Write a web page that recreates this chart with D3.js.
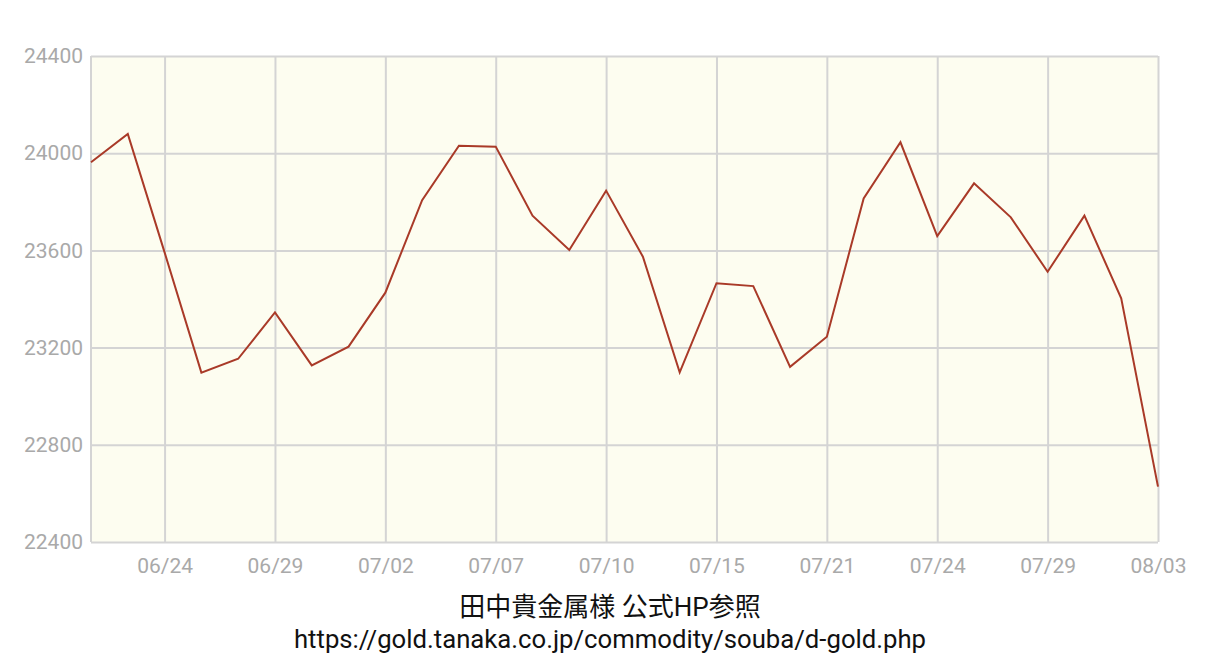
<!DOCTYPE html>
<html>
<head>
<meta charset="utf-8">
<script src="https://cdn.jsdelivr.net/npm/d3@7"></script>
<style>
  html, body { margin: 0; padding: 0; background: #fff; }
  svg { display: block; }
</style>
</head>
<body>
<svg id="chart" width="1220" height="661"></svg>
<script>
'use strict';

// data
const dates = [
    '06/22', '06/23', '06/24', '06/25', '06/26', '06/29', '06/30', '07/01', '07/02', '07/03',
    '07/06', '07/07', '07/08', '07/09', '07/10', '07/13', '07/14', '07/15', '07/16', '07/17',
    '07/21', '07/22', '07/23', '07/24', '07/27', '07/28', '07/29', '07/30', '07/31', '08/03'
];
const prices = [
    23963, 24079, 23592, 23097, 23154, 23345, 23127, 23204, 23426, 23807,
    24031, 24027, 23743, 23602, 23846, 23574, 23098, 23465, 23453, 23121,
    23245, 23814, 24045, 23659, 23876, 23736, 23512, 23743, 23403, 22628
];
const xTickLabels = ['06/24', '06/29', '07/02', '07/07', '07/10', '07/15', '07/21', '07/24', '07/29', '08/03'];
const yTicks = [22400, 22800, 23200, 23600, 24000, 24400];
const captionLines = ['田中貴金属様 公式HP参照', 'https://gold.tanaka.co.jp/commodity/souba/d-gold.php'];

// layout
const plotLeft = 91, plotRight = 1158, plotTop = 56, plotBottom = 542;
const gridColor = '#d4d4d4';
const labelColor = '#a9a9a9';

const svg = d3.select('#chart');

const x = d3.scalePoint()
    .domain(dates)
    .range([plotLeft, plotRight]);

const y = d3.scaleLinear()
    .domain([22400, 24400])
    .range([plotBottom, plotTop]);

// plot background
svg.append('rect')
    .attr('x', plotLeft).attr('y', plotTop)
    .attr('width', plotRight - plotLeft).attr('height', plotBottom - plotTop)
    .attr('fill', '#fdfdf0');

// horizontal grid + y labels
const yAxis = d3.axisLeft(y)
    .tickValues(yTicks)
    .tickSize(-(plotRight - plotLeft))
    .tickPadding(8)
    .tickFormat(d3.format('d'));

const gy = svg.append('g')
    .attr('transform', `translate(${plotLeft},0)`)
    .call(yAxis);
gy.select('.domain').remove();
gy.selectAll('line').attr('stroke', gridColor).attr('stroke-width', 2);
gy.selectAll('text')
    .attr('fill', labelColor)
    .style('font-family', 'Roboto, sans-serif')
    .style('font-size', '21px');

// vertical grid + x labels
const xAxis = d3.axisBottom(x)
    .tickValues(xTickLabels)
    .tickSize(-(plotBottom - plotTop))
    .tickPadding(16);

const gx = svg.append('g')
    .attr('transform', `translate(0,${plotBottom})`)
    .call(xAxis);
gx.select('.domain').remove();
gx.selectAll('line').attr('stroke', gridColor).attr('stroke-width', 2);
gx.selectAll('text')
    .attr('fill', labelColor)
    .style('font-family', 'Roboto, sans-serif')
    .style('font-size', '21px');

// left frame
svg.append('line')
    .attr('x1', plotLeft).attr('x2', plotLeft).attr('y1', plotTop).attr('y2', plotBottom)
    .attr('stroke', gridColor).attr('stroke-width', 2);

// price line
const line = d3.line()
    .x((d, i) => x(dates[i]))
    .y(d => y(d));

svg.append('path')
    .datum(prices)
    .attr('d', line)
    .attr('fill', 'none')
    .attr('stroke', '#a93a28')
    .attr('stroke-width', 2)
    .attr('stroke-linejoin', 'miter');

// caption
svg.append('g')
    .selectAll('text')
    .data(captionLines)
    .enter()
    .append('text')
    .attr('x', 610)
    .attr('y', (d, i) => 616 + i * 32)
    .attr('text-anchor', 'middle')
    .attr('fill', '#111')
    .style('font-family', 'Roboto, "Noto Sans CJK JP", sans-serif')
    .style('font-size', (d, i) => i === 0 ? '26px' : '25.7px')
    .text(d => d);
</script>
</body>
</html>
